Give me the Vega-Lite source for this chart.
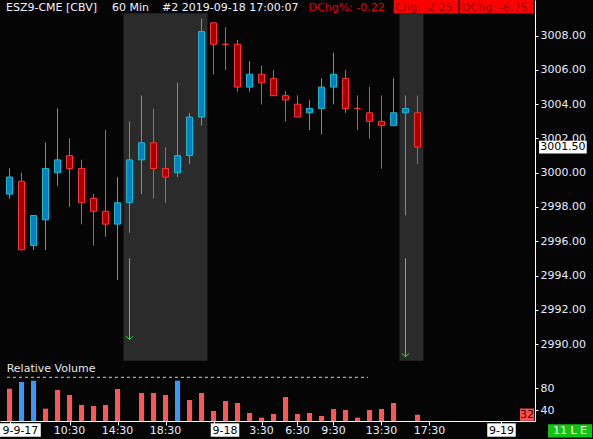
{
  "$schema": "https://vega.github.io/schema/vega-lite/v6.json",
  "width": 535,
  "height": 421,
  "autosize": {"type": "none"},
  "padding": {"left": 0, "top": 0, "right": 58, "bottom": 18},
  "background": "#050505",
  "config": {
    "view": {"stroke": null},
    "text": {"font": "DejaVu Sans", "fontSize": 11},
    "axis": {"labelFont": "DejaVu Sans", "labelFontSize": 11, "labelColor": "#e6ecff", "domainColor": "#ffffff", "tickColor": "#ffffff", "grid": false}
  },
  "datasets": {
    "c": [
      {"i": 1, "o": 2998.75, "h": 3000.25, "l": 2998.5, "c": 2999.75, "rv": 79.3},
      {"i": 2, "o": 2999.5, "h": 3000.0, "l": 2995.5, "c": 2995.5, "rv": 91.5},
      {"i": 3, "o": 2995.75, "h": 2997.5, "l": 2995.5, "c": 2997.5, "rv": 93.9},
      {"i": 4, "o": 2997.25, "h": 3001.75, "l": 2995.5, "c": 3000.25, "rv": 43},
      {"i": 5, "o": 3000.0, "h": 3003.75, "l": 2999.25, "c": 3000.75, "rv": 76.9},
      {"i": 6, "o": 3001.0, "h": 3002.0, "l": 2998.0, "c": 3000.25, "rv": 67.8},
      {"i": 7, "o": 3000.25, "h": 3000.75, "l": 2997.0, "c": 2998.25, "rv": 49.6},
      {"i": 8, "o": 2998.5, "h": 2998.75, "l": 2995.75, "c": 2997.75, "rv": 47.8},
      {"i": 9, "o": 2997.75, "h": 3002.5, "l": 2996.25, "c": 2997.0, "rv": 49.6},
      {"i": 10, "o": 2997.0, "h": 2999.75, "l": 2993.75, "c": 2998.25, "rv": 78.7},
      {"i": 11, "o": 2998.25, "h": 3003.0, "l": 2996.5, "c": 3000.75, "rv": null},
      {"i": 12, "o": 3000.75, "h": 3004.5, "l": 2998.75, "c": 3001.75, "rv": 71.5},
      {"i": 13, "o": 3001.75, "h": 3003.75, "l": 2998.5, "c": 3000.25, "rv": 71.5},
      {"i": 14, "o": 3000.25, "h": 3001.5, "l": 2998.25, "c": 2999.75, "rv": 67.8},
      {"i": 15, "o": 3000.0, "h": 3005.25, "l": 2999.75, "c": 3001.0, "rv": 93.9},
      {"i": 16, "o": 3001.0, "h": 3003.5, "l": 3000.5, "c": 3003.25, "rv": 58.7},
      {"i": 17, "o": 3003.25, "h": 3009.0, "l": 3002.75, "c": 3008.25, "rv": 71.5},
      {"i": 18, "o": 3008.75, "h": 3008.75, "l": 3005.75, "c": 3007.5, "rv": 38.7},
      {"i": 19, "o": 3007.5, "h": 3008.5, "l": 3006.0, "c": 3007.5, "rv": 56.9},
      {"i": 20, "o": 3007.5, "h": 3007.75, "l": 3004.75, "c": 3005.0, "rv": 53.3},
      {"i": 21, "o": 3005.0, "h": 3006.5, "l": 3004.75, "c": 3005.75, "rv": 35.1},
      {"i": 22, "o": 3005.75, "h": 3006.25, "l": 3004.0, "c": 3005.25, "rv": 26.6},
      {"i": 23, "o": 3005.5, "h": 3006.0, "l": 3004.5, "c": 3004.5, "rv": 33.3},
      {"i": 24, "o": 3004.5, "h": 3004.75, "l": 3003.0, "c": 3004.25, "rv": 64.2},
      {"i": 25, "o": 3004.0, "h": 3004.5, "l": 3003.25, "c": 3003.25, "rv": 33.3},
      {"i": 26, "o": 3003.5, "h": 3004.25, "l": 3002.5, "c": 3003.75, "rv": 35.1},
      {"i": 27, "o": 3003.75, "h": 3005.5, "l": 3002.25, "c": 3005.0, "rv": 29.6},
      {"i": 28, "o": 3005.0, "h": 3007.0, "l": 3004.0, "c": 3005.75, "rv": 42.4},
      {"i": 29, "o": 3005.5, "h": 3006.0, "l": 3003.5, "c": 3003.75, "rv": 40.5},
      {"i": 30, "o": 3003.75, "h": 3004.5, "l": 3002.5, "c": 3003.75, "rv": 26.6},
      {"i": 31, "o": 3003.5, "h": 3005.0, "l": 3002.0, "c": 3003.0, "rv": 40.5},
      {"i": 32, "o": 3003.0, "h": 3004.5, "l": 3000.25, "c": 3002.75, "rv": 42.4},
      {"i": 33, "o": 3002.75, "h": 3005.5, "l": 3002.75, "c": 3003.5, "rv": 53.3},
      {"i": 34, "o": 3003.5, "h": 3004.5, "l": 2997.5, "c": 3003.75, "rv": null},
      {"i": 35, "o": 3003.5, "h": 3004.5, "l": 3000.5, "c": 3001.5, "rv": 32}
    ],
    "shade": [{"i": 10.5, "i2": 17.5}, {"i": 33.5, "i2": 35.5}],
    "arrows": [{"i": 11, "from": 2995.0, "to": 2990.25}, {"i": 34, "from": 2995.0, "to": 2989.25}],
    "hdr": [
      {"i": 0.708, "t": "ESZ9-CME [CBV]", "k": "w"},
      {"i": 9.54, "t": "60 Min", "k": "w"},
      {"i": 13.71, "t": "#2 2019-09-18 17:00:07", "k": "w"},
      {"i": 25.92, "t": "DChg%: -0.22", "k": "r"},
      {"i": 33.17, "t": "Chg: -2.25", "k": "b"},
      {"i": 38.71, "t": "DChg: -6.75", "k": "b"}
    ],
    "hb1": [{"i": 35.71}],
    "hb2": [{"i": 41.6}],
    "xl": [
      {"i": 1.908, "t": "9-9-17", "k": "d"},
      {"i": 6, "t": "10:30", "k": "t"},
      {"i": 10, "t": "14:30", "k": "t"},
      {"i": 14, "t": "18:30", "k": "t"},
      {"i": 18.96, "t": "9-18", "k": "d"},
      {"i": 22, "t": "3:30", "k": "t"},
      {"i": 25, "t": "6:30", "k": "t"},
      {"i": 28, "t": "9:30", "k": "t"},
      {"i": 32, "t": "13:30", "k": "t"},
      {"i": 36, "t": "17:30", "k": "t"},
      {"i": 42, "t": "9-19", "k": "d"}
    ],
    "tag": [{"i": 47.71, "t": "11 L E"}],
    "last": [{"i": 47.115, "p": 3001.5, "t": "3001.50"}],
    "dash": [{"i": 0.792, "i2": 30.875, "v": 100}],
    "rvl": [{"i": 0.767, "v": 110, "t": "Relative Volume"}],
    "lastv": [{"i": 44.125, "v": 32, "t": "32"}]
  },
  "encoding": {
    "x": {
      "field": "i", "type": "quantitative",
      "scale": {"domain": [0.2083, 44.7917], "nice": false, "zero": false, "padding": 0},
      "axis": {"values": [1, 6, 10, 14, 18, 22, 25, 28, 32, 36, 42], "labels": false, "title": null, "tickSize": 4, "orient": "bottom"}
    }
  },
  "layer": [
    {
      "layer": [
        {
          "data": {"name": "c"},
          "mark": {"type": "rule", "strokeWidth": 1},
          "encoding": {
            "y": {"field": "l", "type": "quantitative", "title": null,
              "scale": {"domain": [2985.507, 3010.084], "nice": false, "zero": false},
              "axis": {"orient": "right", "values": [2990, 2992, 2994, 2996, 2998, 3000, 3002, 3004, 3006, 3008], "format": ".2f", "title": null, "tickSize": 3, "labelPadding": 2}},
            "y2": {"field": "h"},
            "color": {"condition": {"test": "datum.c > datum.o", "value": "#20b2c8"}, "value": "#ff4040"}
          }
        },
        {
          "data": {"name": "shade"},
          "mark": {"type": "rect", "color": "#2b2b2b"},
          "encoding": {
            "x2": {"field": "i2"},
            "y": {"datum": 3009.307, "type": "quantitative"},
            "y2": {"datum": 2989.03}
          }
        },
        {
          "data": {"name": "c"},
          "mark": {"type": "rule", "strokeWidth": 1},
          "encoding": {
            "y": {"field": "l", "type": "quantitative", "title": null},
            "y2": {"field": "h"},
            "color": {"condition": {"test": "datum.c > datum.o", "value": "#20b2c8"}, "value": "#ff4040"}
          }
        },
        {
          "data": {"name": "c"},
          "mark": {"type": "bar", "width": 6, "strokeWidth": 1},
          "encoding": {
            "y": {"field": "o", "type": "quantitative", "title": null},
            "y2": {"field": "c"},
            "fill": {"condition": {"test": "datum.c > datum.o", "value": "#0a7fc0"}, "value": "#a30000"},
            "stroke": {"condition": {"test": "datum.c > datum.o", "value": "#1ab8d0"}, "value": "#ff3333"}
          }
        },
        {
          "data": {"name": "arrows"},
          "mark": {"type": "rule", "color": "#2ee82e", "strokeWidth": 1},
          "encoding": {
            "y": {"field": "from", "type": "quantitative", "title": null},
            "y2": {"field": "to"}
          }
        },
        {
          "data": {"name": "arrows"},
          "mark": {"type": "point", "shape": "M-1,-1L0,0L1,-1", "size": 49, "filled": false, "stroke": "#2ee82e", "strokeWidth": 1, "opacity": 1},
          "encoding": {
            "y": {"field": "to", "type": "quantitative", "title": null}
          }
        },
        {
          "data": {"name": "hb1"},
          "mark": {"type": "point", "shape": "M-1,-0.2056H1V0.2056H-1Z", "size": 4186, "filled": true, "color": "#ff0000", "opacity": 1},
          "encoding": {"y": {"datum": 3009.696, "type": "quantitative"}}
        },
        {
          "data": {"name": "hb2"},
          "mark": {"type": "point", "shape": "M-1,-0.1814H1V0.1814H-1Z", "size": 5373, "filled": true, "color": "#ff0000", "opacity": 1},
          "encoding": {"y": {"datum": 3009.696, "type": "quantitative"}}
        },
        {
          "data": {"name": "hdr"},
          "mark": {"type": "text", "align": "left", "baseline": "middle"},
          "encoding": {
            "y": {"datum": 3009.646, "type": "quantitative"},
            "text": {"field": "t"},
            "color": {"condition": [{"test": "datum.k == 'r'", "value": "#e00000"}, {"test": "datum.k == 'b'", "value": "#990000"}], "value": "#f0f4ff"}
          }
        },
        {
          "data": {"name": "xl"},
          "transform": [{"filter": "datum.t == '9-9-17'"}],
          "mark": {"type": "point", "shape": "M-1,-0.328H1V0.328H-1Z", "size": 1665, "filled": true, "color": "#ffffff", "opacity": 1},
          "encoding": {"y": {"datum": 2984.98, "type": "quantitative"}}
        },
        {
          "data": {"name": "xl"},
          "transform": [{"filter": "datum.k == 'd' && datum.t != '9-9-17'"}],
          "mark": {"type": "point", "shape": "M-1,-0.47H1V0.47H-1Z", "size": 812, "filled": true, "color": "#ffffff", "opacity": 1},
          "encoding": {"y": {"datum": 2984.98, "type": "quantitative"}}
        },
        {
          "data": {"name": "xl"},
          "mark": {"type": "text", "align": "center", "baseline": "middle"},
          "encoding": {
            "y": {"datum": 2984.93, "type": "quantitative"},
            "text": {"field": "t"},
            "color": {"condition": {"test": "datum.k == 'd'", "value": "#000000"}, "value": "#e6ecff"}
          }
        },
        {
          "data": {"name": "tag"},
          "mark": {"type": "point", "shape": "M-1,-0.3H1V0.3H-1Z", "size": 1936, "filled": true, "color": "#13c313", "opacity": 1},
          "encoding": {"y": {"datum": 2984.93, "type": "quantitative"}}
        },
        {
          "data": {"name": "tag"},
          "mark": {"type": "text", "align": "center", "baseline": "middle", "color": "#ffffff"},
          "encoding": {"y": {"datum": 2984.93, "type": "quantitative"}, "text": {"field": "t"}}
        },
        {
          "data": {"name": "last"},
          "mark": {"type": "point", "shape": "M-1,-0.266H1V0.266H-1Z", "size": 2275, "filled": true, "color": "#ffffff", "opacity": 1},
          "encoding": {"y": {"field": "p", "type": "quantitative", "title": null}}
        },
        {
          "data": {"name": "last"},
          "mark": {"type": "text", "align": "center", "baseline": "middle", "color": "#000000"},
          "encoding": {"y": {"field": "p", "type": "quantitative", "title": null}, "text": {"field": "t"}}
        }
      ]
    },
    {
      "layer": [
        {
          "data": {"name": "c"},
          "mark": {"type": "bar", "width": 5},
          "encoding": {
            "y": {"field": "rv", "type": "quantitative", "title": null,
              "scale": {"domain": [20.55, 786], "nice": false, "zero": false},
              "axis": {"orient": "right", "values": [40, 80], "domain": false, "title": null, "tickSize": 3, "labelPadding": 2}},
            "y2": {"datum": 20.55},
            "color": {"condition": {"test": "datum.rv > 90", "value": "#3399ff"}, "value": "#ff5555"}
          }
        },
        {
          "data": {"name": "dash"},
          "mark": {"type": "rule", "strokeDash": [3, 3], "color": "#d0d0d0", "strokeWidth": 1},
          "encoding": {
            "x2": {"field": "i2"},
            "y": {"field": "v", "type": "quantitative", "title": null}
          }
        },
        {
          "data": {"name": "rvl"},
          "mark": {"type": "text", "align": "left", "baseline": "alphabetic", "color": "#e8e8e8"},
          "encoding": {
            "y": {"field": "v", "type": "quantitative", "title": null},
            "text": {"field": "t"}
          }
        },
        {
          "data": {"name": "lastv"},
          "mark": {"type": "point", "shape": "M-1,-0.88H1V0.88H-1Z", "size": 196, "filled": true, "color": "#ff5050", "opacity": 1},
          "encoding": {"y": {"field": "v", "type": "quantitative", "title": null}}
        },
        {
          "data": {"name": "lastv"},
          "mark": {"type": "text", "align": "center", "baseline": "middle", "color": "#300000"},
          "encoding": {"y": {"field": "v", "type": "quantitative", "title": null}, "text": {"field": "t"}}
        }
      ]
    }
  ],
  "resolve": {"scale": {"y": "independent"}}
}
